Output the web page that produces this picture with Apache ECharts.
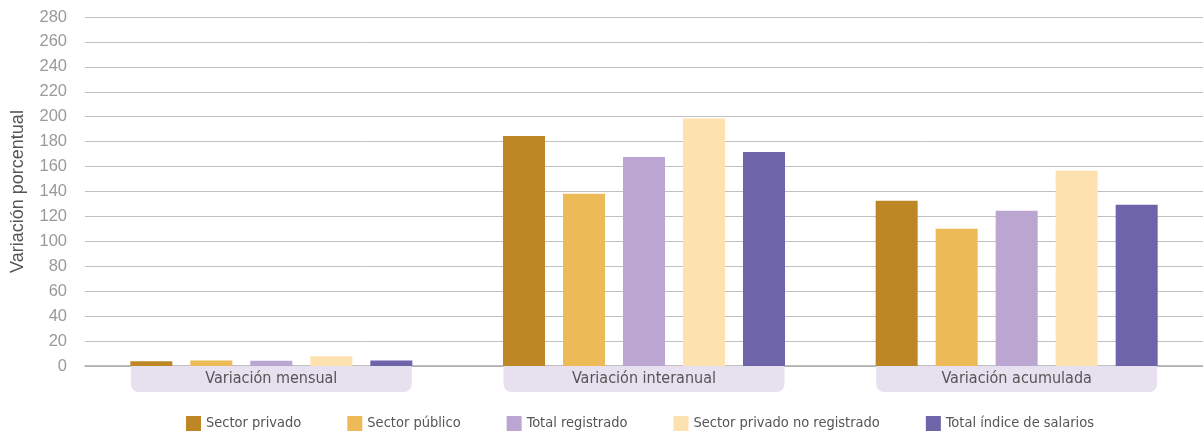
<!DOCTYPE html>
<html><head><meta charset="utf-8">
<script src="https://cdn.jsdelivr.net/npm/echarts@6/dist/echarts.min.js"></script>
<style>html,body{margin:0;padding:0;background:#fff}#c{width:1203px;height:432px}</style>
</head><body><div id="c"></div>
<script>
const categories = ['Variación mensual', 'Variación interanual', 'Variación acumulada'];
const seriesNames = ['Sector privado', 'Sector público', 'Total registrado', 'Sector privado no registrado', 'Total índice de salarios'];
const sectorPrivado = [3.8, 184.5, 132.5];
const sectorPublico = [4.5, 138.2, 110.2];
const totalRegistrado = [4.3, 167.7, 124.5];
const privadoNoRegistrado = [7.8, 198.5, 156.6];
const totalIndice = [4.4, 171.7, 129.4];
const colors = ['#BE8726', '#EDBA58', '#BBA6D1', '#FDE2B0', '#6E64A9'];
const FONT = "'DejaVu Sans Condensed', 'Liberation Sans Narrow', 'Roboto', sans-serif";

const values = [sectorPrivado, sectorPublico, totalRegistrado, privadoNoRegistrado, totalIndice];
const chart = echarts.init(document.getElementById('c'), null, {renderer: 'canvas'});
chart.setOption({
  animation: false,
  color: colors,
  grid: {left: 85, right: -4, top: 17, bottom: 66, containLabel: false},
  legend: {
    data: seriesNames, left: 181, top: 411,
    itemWidth: 15, itemHeight: 15, itemGap: 46, icon: 'rect',
    textStyle: {color: '#555', fontSize: 14.5, fontFamily: FONT}
  },
  xAxis: {
    type: 'category', data: categories,
    axisLine: {lineStyle: {color: '#aaa', width: 1.5}},
    axisTick: {show: false},
    axisLabel: {
      margin: 0, color: '#555', fontSize: 16, fontFamily: FONT,
      width: 281, align: 'center', backgroundColor: '#E6E0EF',
      borderRadius: [0, 0, 8, 8], padding: [5, 0, 5, 0], lineHeight: 16
    }
  },
  yAxis: {
    type: 'value', min: 0, max: 280, interval: 20,
    name: 'Variación porcentual', nameLocation: 'middle', nameGap: 58,
    nameTextStyle: {color: '#555', fontSize: 18, fontFamily: "'Liberation Sans', Arial, sans-serif"},
    axisLine: {show: false}, axisTick: {show: false},
    axisLabel: {margin: 18, color: '#999', fontSize: 16.5, fontFamily: "'Liberation Sans', Arial, sans-serif"},
    splitLine: {lineStyle: {color: '#c0c0c0', width: 1}}
  },
  series: seriesNames.map((n, i) => ({
    name: n, type: 'bar', data: values[i], barWidth: 42, barGap: '42.86%',
    itemStyle: {color: colors[i]}
  }))
});
</script></body></html>
